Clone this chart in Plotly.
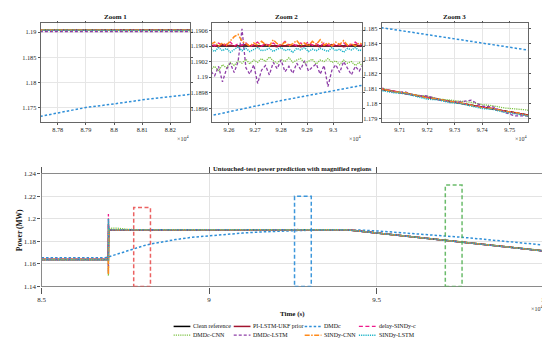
import plotly.graph_objects as go

W, H = 550, 340
FONT = "Liberation Serif"


def fx(p):
    return p / W


def fy(p):
    return 1 - p / H


# ---------------- series meta ----------------
series_names = ["Clean reference", "PI-LSTM-UKF prior", "DMDc", "delay-SINDy-c",
                "DMDc-CNN", "DMDc-LSTM", "SINDy-CNN", "SINDy-LSTM"]
series_colors = ["#000000", "#A2142F", "#2F8FD8", "#EE1A8C",
                 "#7CC242", "#8E3FA8", "#FF8A1A", "#1CB4C8"]
series_dash = ["solid", "solid", "2.5px,2px", "4px,2.5px",
               "1.2px,1px", "3px,2px", "5px,1.5px,1.5px,1.5px", "1.2px,1px"]
series_width = [1.5, 1.5, 1.5, 1.3, 1.3, 1.3, 1.5, 1.5]

# ---------------- data (time in 1e4 s, power in MW) ----------------
t_coarse = [8.50, 8.699, 8.6995, 8.7005, 8.71, 8.725, 8.74, 8.76, 8.80, 8.85, 9.00,
            9.20, 9.25, 9.32, 9.41, 9.50, 9.60, 9.70, 9.80, 9.90, 10.00]

clean_c = [1.1638, 1.1638, 1.1638, 1.1904, 1.1904, 1.1904, 1.1904, 1.1904, 1.1904, 1.1904, 1.1904,
           1.1904, 1.1904, 1.1904, 1.19035, 1.18747, 1.18427, 1.18107, 1.17787, 1.17467, 1.17147]
pi_c = [1.1639, 1.1639, 1.1960, 1.1905, 1.1904, 1.1904, 1.1904, 1.1904, 1.1904, 1.1904, 1.1904,
        1.1904, 1.1904, 1.1904, 1.19035, 1.18747, 1.18427, 1.18107, 1.17787, 1.17467, 1.17147]
delay_c = [1.1639, 1.1639, 1.2042, 1.1906, 1.1904, 1.1904, 1.1904, 1.1904, 1.1904, 1.1904, 1.1904,
           1.1904, 1.1904, 1.1904, 1.19036, 1.18748, 1.18428, 1.18108, 1.17788, 1.17468, 1.17148]
dcnn_c = [1.1637, 1.1637, 1.1495, 1.1912, 1.1917, 1.1918, 1.1912, 1.1906, 1.1903, 1.1902, 1.1902,
          1.1902, 1.1902, 1.1902, 1.19030, 1.18750, 1.18432, 1.18112, 1.17815, 1.17495, 1.17175]
dlstm_c = [1.1638, 1.1638, 1.1520, 1.1903, 1.1902, 1.1901, 1.1901, 1.1901, 1.1901, 1.1901, 1.1901,
           1.1901, 1.1901, 1.1901, 1.19030, 1.18745, 1.18425, 1.18105, 1.17780, 1.17460, 1.17140]
scnn_c = [1.1638, 1.1638, 1.1505, 1.1905, 1.1904, 1.1904, 1.1904, 1.1904, 1.1904, 1.1904, 1.1904,
          1.1904, 1.1904, 1.1904, 1.19038, 1.18748, 1.18428, 1.18108, 1.17786, 1.17466, 1.17146]
slstm_c = [1.1637, 1.1637, 1.2000, 1.1904, 1.19035, 1.19035, 1.19035, 1.19035, 1.19035, 1.19035, 1.19035,
           1.19035, 1.19035, 1.19035, 1.19030, 1.18742, 1.18422, 1.18102, 1.17782, 1.17462, 1.17142]

dmdc_t = [8.50, 8.69, 8.70, 8.72, 8.74, 8.76, 8.7739, 8.79, 8.80, 8.81, 8.827, 8.85, 8.90, 8.95,
          9.00, 9.05, 9.10, 9.15, 9.20, 9.2535, 9.28, 9.3117, 9.35, 9.40, 9.45, 9.50, 9.55, 9.60,
          9.65, 9.7034, 9.73, 9.7568, 9.80, 9.85, 9.90, 9.95, 10.00]
dmdc_y = [1.1655, 1.1655, 1.1662, 1.1682, 1.1700, 1.1718, 1.17335, 1.1751, 1.1758, 1.1766, 1.1777,
          1.1791, 1.1816, 1.1836, 1.1850, 1.1863, 1.1874, 1.1883, 1.1890, 1.18951, 1.18970,
          1.18990, 1.1901, 1.1902, 1.1900, 1.1893, 1.1883, 1.1872, 1.1862, 1.18505, 1.18430,
          1.18356, 1.1824, 1.1810, 1.1796, 1.1781, 1.1767]

# Zoom 2 window samples
z2_t = [9.2530, 9.2545, 9.2560, 9.2575, 9.2590, 9.2605, 9.2620, 9.2635, 9.2650, 9.2665,
        9.2680, 9.2695, 9.2710, 9.2725, 9.2740, 9.2755, 9.2770, 9.2785, 9.2800, 9.2815,
        9.2830, 9.2845, 9.2860, 9.2875, 9.2890, 9.2905, 9.2920, 9.2935, 9.2950, 9.2965,
        9.2980, 9.2995, 9.3010, 9.3025, 9.3040, 9.3055, 9.3070, 9.3085, 9.3100, 9.3115, 9.3130]
pi_z2 = [1.19040, 1.19041, 1.19039, 1.19042, 1.19040, 1.19041, 1.19040, 1.19039, 1.19041, 1.19042,
         1.19040, 1.19041, 1.19039, 1.19040, 1.19042, 1.19041, 1.19040, 1.19039, 1.19041, 1.19040,
         1.19042, 1.19040, 1.19041, 1.19039, 1.19040, 1.19042, 1.19041, 1.19040, 1.19039, 1.19041,
         1.19040, 1.19042, 1.19040, 1.19041, 1.19039, 1.19040, 1.19041, 1.19042, 1.19040, 1.19041, 1.19040]
delay_z2 = [1.19043, 1.19040, 1.19044, 1.19041, 1.19042, 1.19045, 1.19040, 1.19043, 1.19041, 1.19044,
            1.19039, 1.19042, 1.19045, 1.19040, 1.19043, 1.19041, 1.19044, 1.19040, 1.19042, 1.19046,
            1.19041, 1.19043, 1.19040, 1.19044, 1.19042, 1.19045, 1.19041, 1.19043, 1.19040, 1.19044,
            1.19042, 1.19039, 1.19043, 1.19041, 1.19044, 1.19040, 1.19042, 1.19045, 1.19041, 1.19043, 1.19040]
dcnn_z2 = [1.19010, 1.19014, 1.19008, 1.19016, 1.19012, 1.19019, 1.19015, 1.19021, 1.19018, 1.19023,
           1.19017, 1.19022, 1.19019, 1.19024, 1.19020, 1.19026, 1.19021, 1.19018, 1.19023, 1.19020,
           1.19025, 1.19019, 1.19022, 1.19024, 1.19018, 1.19021, 1.19023, 1.19017, 1.19022, 1.19020,
           1.19024, 1.19019, 1.19021, 1.19016, 1.19022, 1.19018, 1.19020, 1.19015, 1.19019, 1.19013, 1.19012]
dlstm_z2 = [1.19008, 1.19002, 1.19014, 1.18994, 1.19010, 1.19018, 1.19006, 1.19020, 1.19062, 1.19012,
            1.19004, 1.19016, 1.18992, 1.19009, 1.19015, 1.19003, 1.19019, 1.19011, 1.19022, 1.19007,
            1.19014, 1.19005, 1.19018, 1.19010, 1.19021, 1.19008, 1.19013, 1.19017, 1.19004, 1.19015,
            1.18988, 1.19009, 1.19016, 1.19006, 1.19020, 1.19011, 1.19003, 1.19014, 1.19008, 1.19017, 1.19010]
scnn_z2 = [1.19042, 1.19045, 1.19040, 1.19044, 1.19041, 1.19047, 1.19052, 1.19055, 1.19046, 1.19043,
           1.19040, 1.19044, 1.19041, 1.19046, 1.19042, 1.19040, 1.19048, 1.19043, 1.19041, 1.19045,
           1.19040, 1.19043, 1.19047, 1.19041, 1.19044, 1.19040, 1.19046, 1.19042, 1.19048, 1.19041,
           1.19044, 1.19040, 1.19045, 1.19042, 1.19047, 1.19041, 1.19043, 1.19040, 1.19044, 1.19042, 1.19041]
slstm_z2 = [1.19036, 1.19033, 1.19038, 1.19034, 1.19037, 1.19032, 1.19036, 1.19039, 1.19034, 1.19037,
            1.19033, 1.19036, 1.19038, 1.19034, 1.19035, 1.19037, 1.19033, 1.19036, 1.19038, 1.19034,
            1.19036, 1.19032, 1.19037, 1.19035, 1.19038, 1.19033, 1.19036, 1.19034, 1.19037, 1.19035,
            1.19033, 1.19038, 1.19034, 1.19036, 1.19032, 1.19037, 1.19035, 1.19038, 1.19034, 1.19036, 1.19035]

# Zoom 3 window samples
z3_t = [9.704, 9.708, 9.712, 9.716, 9.720, 9.724, 9.728, 9.732, 9.736, 9.740, 9.744, 9.748, 9.752, 9.756]
pi_z3 = [1.18094, 1.18083, 1.18068, 1.18054, 1.18045, 1.18030, 1.18015, 1.18006, 1.17992, 1.17981,
         1.17964, 1.17953, 1.17942, 1.17928]
delay_z3 = [1.18096, 1.18086, 1.18066, 1.18059, 1.18043, 1.18027, 1.18019, 1.18009, 1.17990, 1.17981,
            1.17969, 1.17950, 1.17940, 1.17930]
dcnn_z3 = [1.18100, 1.18081, 1.18073, 1.18058, 1.18051, 1.18033, 1.18026, 1.18018, 1.18010, 1.17995,
           1.17987, 1.17973, 1.17966, 1.17960]
dlstm_z3 = [1.18102, 1.18076, 1.18080, 1.18053, 1.18052, 1.18030, 1.18011, 1.18013, 1.18024, 1.17985,
            1.17980, 1.17944, 1.17920, 1.17920]
scnn_z3 = [1.18097, 1.18079, 1.18073, 1.18056, 1.18038, 1.18032, 1.18014, 1.18007, 1.17992, 1.17974,
           1.17968, 1.17951, 1.17943, 1.17925]
slstm_z3 = [1.18089, 1.18073, 1.18068, 1.18050, 1.18031, 1.18027, 1.18009, 1.18002, 1.17986, 1.17969,
            1.17963, 1.17945, 1.17935, 1.17922]

# magnified windows [t0, t1, ytop]  (bottom at 1.14)
win_t0 = [8.775, 9.255, 9.705]
win_t1 = [8.825, 9.305, 9.755]
win_top = [1.21, 1.22, 1.23]
win_colors = ["rgba(232,70,70,0.85)", "rgba(40,140,215,0.9)", "rgba(80,175,80,0.85)"]

# ticks
main_xt = [8.5, 9, 9.5, 10]
main_xl = ["8.5", "9", "9.5", "10"]
main_yt = [1.14, 1.16, 1.18, 1.20, 1.22, 1.24]
main_yl = ["1.14", "1.16", "1.18", "1.2", "1.22", "1.24"]
z1_xt = [8.78, 8.79, 8.80, 8.81, 8.82]
z1_xl = ["8.78", "8.79", "8.8", "8.81", "8.82"]
z1_yt = [1.175, 1.18, 1.185, 1.19]
z1_yl = ["1.175", "1.18", "1.185", "1.19"]
z2_xt = [9.26, 9.27, 9.28, 9.29, 9.30]
z2_xl = ["9.26", "9.27", "9.28", "9.29", "9.3"]
z2_yt = [1.1896, 1.1898, 1.19, 1.1902, 1.1904, 1.1906]
z2_yl = ["1.1896", "1.1898", "1.19", "1.1902", "1.1904", "1.1906"]
z3_xt = [9.71, 9.72, 9.73, 9.74, 9.75]
z3_xl = ["9.71", "9.72", "9.73", "9.74", "9.75"]
z3_yt = [1.179, 1.18, 1.181, 1.182, 1.183, 1.184, 1.185]
z3_yl = ["1.179", "1.18", "1.181", "1.182", "1.183", "1.184", "1.185"]


def merge(*parts):
    pts = []
    for t, y in parts:
        pts.extend(zip(t, y))
    pts.sort(key=lambda p: p[0])
    return [p[0] for p in pts], [p[1] for p in pts]


series_data = [
    merge((t_coarse, clean_c)),
    merge((t_coarse, pi_c), (z2_t, pi_z2), (z3_t, pi_z3)),
    merge((dmdc_t, dmdc_y)),
    merge((t_coarse, delay_c), (z2_t, delay_z2), (z3_t, delay_z3)),
    merge((t_coarse, dcnn_c), (z2_t, dcnn_z2), (z3_t, dcnn_z3)),
    merge((t_coarse, dlstm_c), (z2_t, dlstm_z2), (z3_t, dlstm_z3)),
    merge((t_coarse, scnn_c), (z2_t, scnn_z2), (z3_t, scnn_z3)),
    merge((t_coarse, slstm_c), (z2_t, slstm_z2), (z3_t, slstm_z3)),
]

fig = go.Figure()
panels = [("x", "y"), ("x2", "y2"), ("x3", "y3"), ("x4", "y4")]
for name, (t, y), c, d, w in zip(series_names, series_data, series_colors, series_dash, series_width):
    for xa, ya in panels:
        fig.add_trace(go.Scatter(x=t, y=y, mode="lines", name=name,
                                 line=dict(color=c, dash=d, width=w),
                                 xaxis=xa, yaxis=ya, showlegend=False, hoverinfo="skip"))

tickfont = dict(family=FONT, size=7, color="#262626")
ztickfont = dict(family=FONT, size=6.3, color="#262626")


def main_axis(domain, rng, tv, tl, anchor, ticklen):
    return dict(domain=domain, range=rng, anchor=anchor, tickvals=tv, ticktext=tl,
                ticks="outside", ticklen=ticklen, tickwidth=0.8, tickcolor="#555",
                mirror="ticks", showline=True, linecolor="#8a8a8a", linewidth=1.4,
                showgrid=True, gridcolor="#e3e3e3", gridwidth=0.8, zeroline=False,
                tickfont=tickfont, fixedrange=True)


def zoom_axis(domain, rng, tv, tl, anchor):
    return dict(domain=domain, range=rng, anchor=anchor, tickvals=tv, ticktext=tl,
                ticks="outside", ticklen=2, tickwidth=0.7, tickcolor="#555",
                mirror="ticks", showline=True, linecolor="#666", linewidth=0.8,
                showgrid=True, gridcolor="#e6e6e6", gridwidth=0.7, zeroline=False,
                tickfont=ztickfont, fixedrange=True)


zy = [fy(112.3), fy(11.7)]
layout = dict(
    width=W, height=H, margin=dict(l=0, r=0, t=0, b=0),
    paper_bgcolor="white", plot_bgcolor="white",
    xaxis=main_axis([fx(30), fx(540)], [8.5, 10], main_xt, main_xl, "y", 6),
    yaxis=main_axis([fy(281), fy(165.7)], [1.14, 1.24], main_yt, main_yl, "x", 3),
    xaxis2=zoom_axis([fx(29), fx(181)], [8.7739, 8.8271], z1_xt, z1_xl, "y2"),
    yaxis2=zoom_axis(zy, [1.1723, 1.1917], z1_yt, z1_yl, "x2"),
    xaxis3=zoom_axis([fx(203), fx(355)], [9.2535, 9.3110], z2_xt, z2_xl, "y3"),
    yaxis3=zoom_axis(zy, [1.18943, 1.19069], z2_yt, z2_yl, "x3"),
    xaxis4=zoom_axis([fx(375), fx(524)], [9.7034, 9.7568], z3_xt, z3_xl, "y4"),
    yaxis4=zoom_axis(zy, [1.17882, 1.18533], z3_yt, z3_yl, "x4"),
    showlegend=False,
)
fig.update_layout(**layout)

# magnified-region rectangles
for t0, t1, top, col in zip(win_t0, win_t1, win_top, win_colors):
    fig.add_shape(type="rect", xref="x", yref="y", x0=t0, x1=t1, y0=1.14, y1=top,
                  line=dict(color=col, width=1.5, dash="4px,2.5px"), fillcolor="rgba(0,0,0,0)")

ann = []
# panel titles
zoom_titles = ["Zoom 1", "Zoom 2", "Zoom 3"]
zoom_centers = [105, 279, 449.5]
zoom_rights = [181, 355, 524]
for title, cx, rx in zip(zoom_titles, zoom_centers, zoom_rights):
    ann.append(dict(x=fx(cx), y=fy(5.5), xref="paper", yref="paper", text="<b>%s</b>" % title,
                    showarrow=False, font=dict(family=FONT, size=7, color="#111"),
                    xanchor="center", yanchor="middle"))
    ann.append(dict(x=fx(rx + 1), y=fy(129), xref="paper", yref="paper", text="×10<sup>4</sup>",
                    showarrow=False, font=dict(family=FONT, size=6, color="#333"),
                    xanchor="right", yanchor="middle"))
ann.append(dict(x=fx(285), y=fy(160), xref="paper", yref="paper",
                text="<b>Untouched-test power prediction with magnified regions</b>",
                showarrow=False, font=dict(family=FONT, size=6.6, color="#111"),
                xanchor="center", yanchor="middle"))
ann.append(dict(x=fx(541), y=fy(303), xref="paper", yref="paper", text="×10<sup>4</sup>",
                showarrow=False, font=dict(family=FONT, size=6, color="#333"),
                xanchor="right", yanchor="middle"))
ann.append(dict(x=fx(285), y=fy(309), xref="paper", yref="paper", text="<b>Time (s)</b>",
                showarrow=False, font=dict(family=FONT, size=7, color="#111"),
                xanchor="center", yanchor="middle"))
ann.append(dict(x=fx(7.5), y=fy(223), xref="paper", yref="paper", text="<b>Power (MW)</b>",
                showarrow=False, textangle=-90, font=dict(family=FONT, size=7.5, color="#111"),
                xanchor="center", yanchor="middle"))

# legend (4 columns x 2 rows)
leg_col_x = [164, 225, 297, 352]
leg_row_y = [322, 331]
for i, (name, c, d, w) in enumerate(zip(series_names, series_colors, series_dash, series_width)):
    x0 = leg_col_x[i % 4]
    yy = leg_row_y[i // 4]
    fig.add_shape(type="line", xref="paper", yref="paper", x0=fx(x0), x1=fx(x0 + 17),
                  y0=fy(yy), y1=fy(yy), line=dict(color=c, width=w, dash=d))
    ann.append(dict(x=fx(x0 + 18), y=fy(yy), xref="paper", yref="paper", text=name,
                    showarrow=False, font=dict(family=FONT, size=6, color="#111"),
                    xanchor="left", yanchor="middle"))

fig.update_layout(annotations=ann)
fig.write_html("out.html")
